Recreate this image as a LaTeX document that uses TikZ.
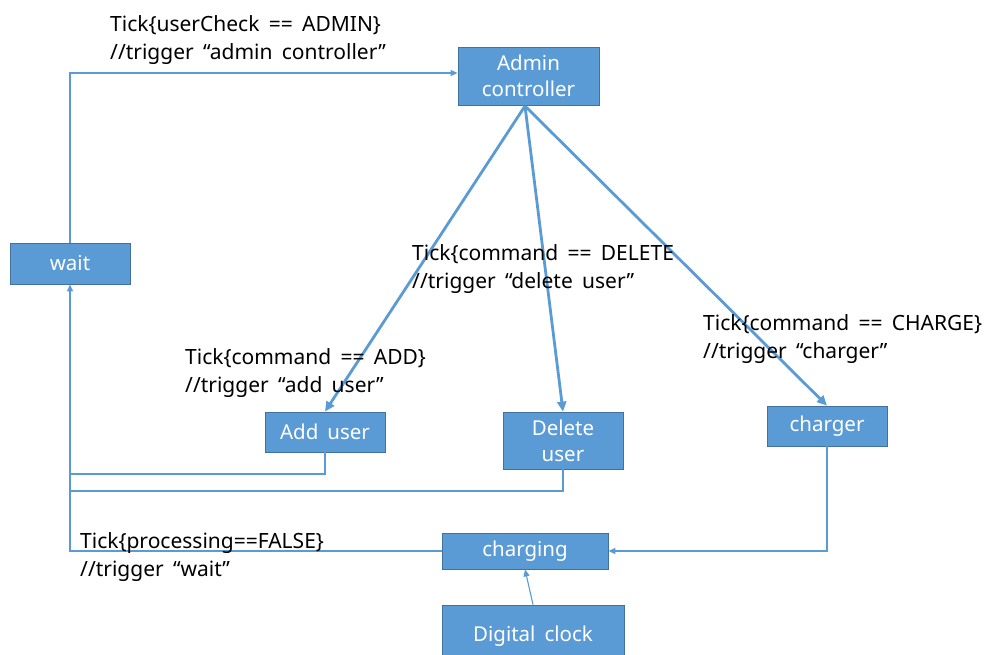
\documentclass[tikz,border=0pt]{standalone}
\usepackage{fontspec}
\setmainfont[WordSpace=1.7]{Noto Sans}
\usetikzlibrary{arrows.meta}
\definecolor{boxfill}{HTML}{5B9BD5}
\definecolor{boxline}{HTML}{41719C}
\definecolor{conn}{HTML}{5B9BD5}
\begin{document}
\begin{tikzpicture}[x=1pt,y=-1pt,
  box/.style={draw=boxline,line width=0.8pt,fill=boxfill,text=white,inner sep=0pt,align=center,font=\fontsize{20.5}{26}\selectfont},
  lbl/.style={anchor=west,inner sep=0pt,align=left,font=\fontsize{21}{28}\selectfont},
  thin/.style={draw=conn,line width=1.1pt,-{Triangle[length=7pt,width=6pt]}},
  thinl/.style={draw=conn,line width=1.1pt},
  thick/.style={draw=conn,line width=2.8pt,-{Triangle[length=10pt,width=9pt]}}]
\useasboundingbox (0,0) rectangle (990,654);
\node[box,minimum width=141pt,minimum height=58pt] (admin) at (528.5,76) {Admin\\controller};
\node[box,minimum width=120pt,minimum height=41pt] (wait) at (70,263.5) {wait};
\node[box,minimum width=120pt,minimum height=40pt] (add) at (325,432) {Add user};
\node[box,minimum width=120pt,minimum height=57pt] (del) at (563,440.5) {Delete\\user};
\node[box,minimum width=120pt,minimum height=40pt] (charger) at (827,426) {charger};
\node[box,minimum width=166pt,minimum height=36pt] (charging) at (525,551) {charging};
\node[box,minimum width=182pt,minimum height=62pt] (clock) at (533,636) {Digital clock};

\coordinate (top) at (525,106);
\draw[thick] (top) -- (add.north);
\draw[thick] (top) -- (del.north);
\draw[thick] (top) -- (charger.north);

\draw[thin] (wait.north) |- (admin.west |- 0,73);
\draw[thinl] (add.south) |- (70,474);
\draw[thinl] (del.south) |- (70,491);
\draw[thin] (charging.west) -| (wait.south);
\draw[thin] (charger.south) |- (charging.east);
\draw[thin] (clock.north) -- (charging.south);

\node[lbl] (l1) at (110,40) {Tick\{userCheck == ADMIN\}\\//trigger “admin controller”};
\node[lbl] (l2) at (412,269) {Tick\{command == DELETE\\//trigger “delete user”};
\node[lbl] (l3) at (185,373) {Tick\{command == ADD\}\\//trigger “add user”};
\node[lbl] (l4) at (703,339) {Tick\{command == CHARGE\}\\//trigger “charger”};
\node[lbl] (l5) at (80,557) {Tick\{processing==FALSE\}\\//trigger “wait”};
\end{tikzpicture}
\end{document}
